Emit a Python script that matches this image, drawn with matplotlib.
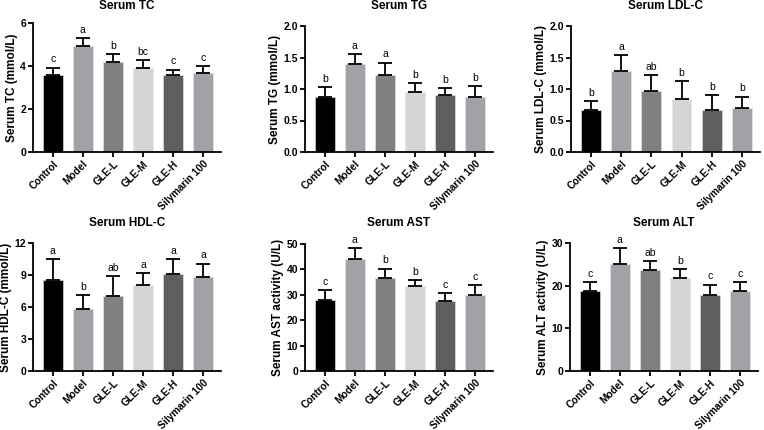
#!/usr/bin/env python3
"""
Serum biochemistry bar panels (mean + SD, letters = significance groups).
"""

import matplotlib
matplotlib.use("Agg")
import matplotlib.pyplot as plt

plt.rcParams["font.family"] = ["Liberation Sans", "DejaVu Sans"]

groups = ["Control", "Model", "GLE-L", "GLE-M", "GLE-H", "Silymarin 100"]
bar_colors = ["#000000", "#a2a2a6", "#808080", "#d5d5d5", "#5f5f5f", "#a2a2a6"]

# mean values
tc_mean = [3.56, 4.92, 4.18, 3.90, 3.56, 3.67]
tc_sd = [0.36, 0.39, 0.36, 0.36, 0.27, 0.31]
tc_letters = ["c", "a", "b", "bc", "c", "c"]

tg_mean = [0.88, 1.40, 1.23, 0.95, 0.905, 0.88]
tg_sd = [0.15, 0.15, 0.19, 0.15, 0.115, 0.16]
tg_letters = ["b", "a", "a", "b", "b", "b"]

ldl_mean = [0.66, 1.28, 0.97, 0.84, 0.66, 0.70]
ldl_sd = [0.15, 0.26, 0.25, 0.28, 0.25, 0.18]
ldl_letters = ["b", "a", "ab", "b", "b", "b"]

hdl_mean = [8.52, 5.85, 7.07, 8.02, 9.12, 8.80]
hdl_sd = [1.95, 1.29, 1.80, 1.16, 1.35, 1.26]
hdl_letters = ["a", "b", "ab", "a", "a", "a"]

ast_mean = [27.8, 44.2, 36.8, 33.6, 27.4, 30.1]
ast_sd = [4.2, 4.2, 3.5, 2.2, 3.3, 3.6]
ast_letters = ["c", "a", "b", "b", "c", "c"]

alt_mean = [18.85, 25.06, 23.64, 21.68, 17.9, 18.77]
alt_sd = [2.05, 3.69, 2.13, 2.28, 2.37, 2.03]
alt_letters = ["c", "a", "ab", "b", "c", "c"]

panels = [
    ("Serum TC", "Serum TC (mmol/L)", tc_mean, tc_sd, tc_letters, [0, 2, 4, 6], "{:.0f}"),
    ("Serum TG", "Serum TG (mmol/L)", tg_mean, tg_sd, tg_letters, [0, 0.5, 1.0, 1.5, 2.0], "{:.1f}"),
    ("Serum LDL-C", "Serum LDL-C (mmol/L)", ldl_mean, ldl_sd, ldl_letters, [0, 0.5, 1.0, 1.5, 2.0], "{:.1f}"),
    ("Serum HDL-C", "Serum HDL-C (mmol/L)", hdl_mean, hdl_sd, hdl_letters, [0, 3, 6, 9, 12], "{:.0f}"),
    ("Serum AST", "Serum AST activity (U/L)", ast_mean, ast_sd, ast_letters, [0, 10, 20, 30, 40, 50], "{:.0f}"),
    ("Serum ALT", "Serum ALT activity (U/L)", alt_mean, alt_sd, alt_letters, [0, 10, 20, 30], "{:.0f}"),
]

W, H = 764, 430
# axes boxes in pixels: left, top, right, bottom
boxes = [
    (33, 23, 221, 152), (305, 26, 493, 152), (571, 26, 760, 152),
    (33, 243, 221, 371), (305, 244, 493, 371), (570, 243, 758, 371),
]
title_y = [6, 6, 6, 223, 223, 223]

fig = plt.figure(figsize=(W / 100, H / 100), dpi=100)

for (title, ylabel, mean, sd, letters, yticks, fmt), (l, t, r, b), ty in zip(panels, boxes, title_y):
    ax = fig.add_axes([l / W, 1 - b / H, (r - l) / W, (b - t) / H])
    x = list(range(len(groups)))
    ax.bar(x, mean, width=0.66, color=bar_colors, edgecolor="#e8e8e8", linewidth=0.4, zorder=2)
    ax.errorbar(x, mean, yerr=[[0] * len(sd), sd], fmt="none", ecolor="black",
                elinewidth=1.3, capsize=4.7, capthick=1.3, zorder=3)
    ymax = yticks[-1]
    for xi, m, s, lab in zip(x, mean, sd, letters):
        ax.text(xi, m + s + ymax * 0.025, lab, ha="center", va="bottom", fontsize=7.5)
    ax.set_xlim(-0.66, 5.6)
    ax.set_ylim(0, ymax)
    ax.set_yticks(yticks)
    ax.set_yticklabels([fmt.format(v) for v in yticks], fontsize=7.5, fontweight="bold")
    ax.set_xticks(x)
    ax.set_xticklabels(groups, rotation=45, ha="right", rotation_mode="anchor",
                       fontsize=7.3, fontweight="bold")
    ax.set_ylabel(ylabel, fontsize=8.5, fontweight="bold", labelpad=2)
    fig.text((l + r) / 2 / W, 1 - ty / H, title, ha="center", va="center",
             fontsize=8.5, fontweight="bold")
    for side in ("top", "right"):
        ax.spines[side].set_visible(False)
    for side in ("left", "bottom"):
        ax.spines[side].set_linewidth(1.3)
    ax.tick_params(width=1.3, length=3.5, pad=1.5)

plt.savefig("out.png", dpi=100)
